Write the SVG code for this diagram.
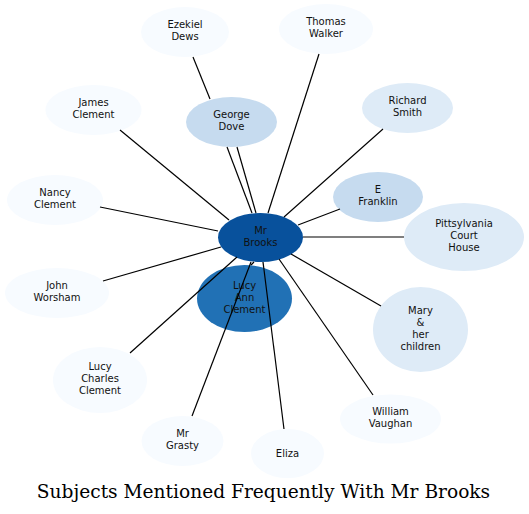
<svg xmlns="http://www.w3.org/2000/svg" width="529" height="514" viewBox="0 0 529 514">
<style>
.e{stroke:#000;stroke-width:1.2;fill:none}
.t{font-family:"DejaVu Sans",sans-serif;font-size:10px;fill:#111;text-anchor:middle}
.b1{fill:#f7fbff}.b2{fill:#deebf7}.b3{fill:#c6dbef}.b6{fill:#2171b5}.b8{fill:#08519c}
.title{font-family:"DejaVu Serif",serif;font-size:18.6px;fill:#000;text-anchor:middle}
</style>
<rect width="529" height="514" fill="#fff"/>
<g id="n_mr_brooks"><ellipse class="b8" cx="260.5" cy="237.5" rx="42.5" ry="24.5"/><text class="t" x="260.5" y="233.5">Mr</text><text class="t" x="260.5" y="245.5">Brooks</text></g>
<g id="n_lucy_ann"><ellipse class="b6" cx="244.5" cy="298.5" rx="47.5" ry="33.5"/><text class="t" x="244.5" y="288.5">Lucy</text><text class="t" x="244.5" y="300.5">Ann</text><text class="t" x="244.5" y="312.5">Clement</text></g>
<g id="n_george_dove"><ellipse class="b3" cx="231.5" cy="122" rx="45.5" ry="25"/><text class="t" x="231.5" y="118">George</text><text class="t" x="231.5" y="130">Dove</text></g>
<g id="n_e_franklin"><ellipse class="b3" cx="378" cy="197" rx="45" ry="25"/><text class="t" x="378" y="193">E</text><text class="t" x="378" y="205">Franklin</text></g>
<g id="n_pittsylvania"><ellipse class="b2" cx="464" cy="237" rx="60" ry="34"/><text class="t" x="464" y="227">Pittsylvania</text><text class="t" x="464" y="239">Court</text><text class="t" x="464" y="251">House</text></g>
<g id="n_mary"><ellipse class="b2" cx="420.5" cy="329.5" rx="47.5" ry="42.5"/><text class="t" x="420.5" y="313.5">Mary</text><text class="t" x="420.5" y="325.5">&amp;</text><text class="t" x="420.5" y="337.5">her</text><text class="t" x="420.5" y="349.5">children</text></g>
<g id="n_richard_smith"><ellipse class="b2" cx="407.5" cy="108" rx="45.5" ry="25"/><text class="t" x="407.5" y="104">Richard</text><text class="t" x="407.5" y="116">Smith</text></g>
<g id="n_thomas_walker"><ellipse class="b1" cx="326" cy="29" rx="47" ry="25"/><text class="t" x="326" y="25">Thomas</text><text class="t" x="326" y="37">Walker</text></g>
<g id="n_ezekiel_dews"><ellipse class="b1" cx="185" cy="32" rx="44" ry="25"/><text class="t" x="185" y="28">Ezekiel</text><text class="t" x="185" y="40">Dews</text></g>
<g id="n_james_clement"><ellipse class="b1" cx="93.5" cy="110" rx="48" ry="25"/><text class="t" x="93.5" y="106">James</text><text class="t" x="93.5" y="118">Clement</text></g>
<g id="n_nancy_clement"><ellipse class="b1" cx="55" cy="200" rx="48" ry="25"/><text class="t" x="55" y="196">Nancy</text><text class="t" x="55" y="208">Clement</text></g>
<g id="n_john_worsham"><ellipse class="b1" cx="57" cy="293" rx="52" ry="25"/><text class="t" x="57" y="289">John</text><text class="t" x="57" y="301">Worsham</text></g>
<g id="n_lucy_charles"><ellipse class="b1" cx="100" cy="380" rx="47" ry="33"/><text class="t" x="100" y="370">Lucy</text><text class="t" x="100" y="382">Charles</text><text class="t" x="100" y="394">Clement</text></g>
<g id="n_mr_grasty"><ellipse class="b1" cx="182.5" cy="441" rx="41" ry="25"/><text class="t" x="182.5" y="437">Mr</text><text class="t" x="182.5" y="449">Grasty</text></g>
<g id="n_eliza"><ellipse class="b1" cx="287.5" cy="453.5" rx="36.5" ry="24.5"/><text class="t" x="287.5" y="456.5">Eliza</text></g>
<g id="n_william_vaughan"><ellipse class="b1" cx="390.5" cy="419" rx="50.5" ry="24.5"/><text class="t" x="390.5" y="415">William</text><text class="t" x="390.5" y="427">Vaughan</text></g>
<g id="edges">
<line class="e" x1="193" y1="57" x2="210" y2="99"/>
<line class="e" x1="227" y1="147" x2="252" y2="213"/>
<line class="e" x1="237" y1="147" x2="256" y2="213"/>
<line class="e" x1="319" y1="54" x2="268" y2="213"/>
<line class="e" x1="383" y1="129" x2="284" y2="217"/>
<line class="e" x1="340" y1="209" x2="298" y2="225"/>
<line class="e" x1="303" y1="237" x2="404" y2="237"/>
<line class="e" x1="291" y1="254" x2="381" y2="306"/>
<line class="e" x1="279" y1="259" x2="373" y2="395"/>
<line class="e" x1="263" y1="262" x2="284" y2="429"/>
<line class="e" x1="251" y1="262" x2="192" y2="416"/>
<line class="e" x1="254" y1="262" x2="251" y2="265"/>
<line class="e" x1="237" y1="257" x2="130" y2="353"/>
<line class="e" x1="221" y1="247" x2="103" y2="281"/>
<line class="e" x1="218" y1="231" x2="100" y2="207"/>
<line class="e" x1="229" y1="220" x2="120" y2="130"/>
</g>
<text class="title" x="263.5" y="498">Subjects Mentioned Frequently With Mr Brooks</text>
</svg>
